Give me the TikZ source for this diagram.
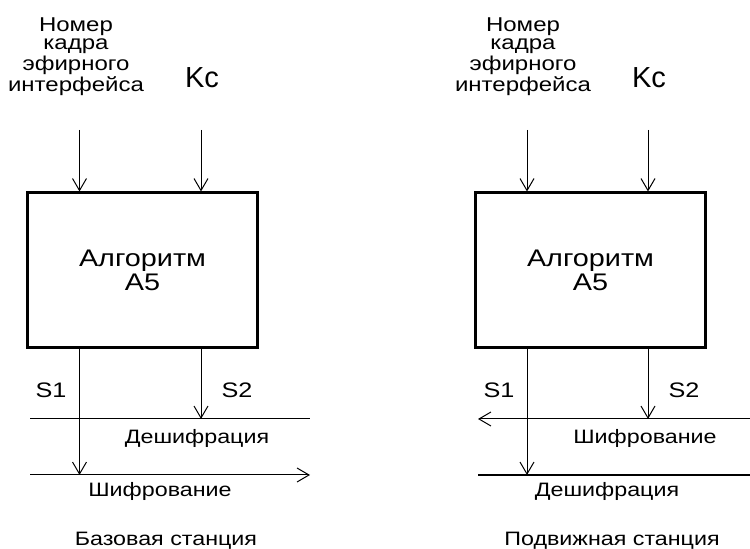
\documentclass[tikz,border=0pt]{standalone}
\usepackage{fontspec}
\setmainfont{Liberation Sans}[FakeStretch=1.2]
\newfontfamily\kcfont{Liberation Sans}
\usetikzlibrary{positioning, arrows.meta}

\begin{document}
\begin{tikzpicture}[x=0.5pt, y=-0.5pt,
    algbox/.style={draw, line width=1.5pt, minimum width=115pt, minimum height=77.5pt,
        align=center, font=\fontsize{12}{10}\selectfont},
    sig/.style={-{Straight Barb[length=6pt, width=7pt]}, line width=0.5pt},
    infotxt/.style={anchor=north, inner sep=0pt, align=center, font=\fontsize{10}{9.2}\selectfont},
    keytxt/.style={anchor=base, inner sep=0pt, font=\kcfont\fontsize{14.5}{14.5}\selectfont},
    stxt/.style={anchor=base, inner sep=0pt, font=\fontsize{10.5}{10.5}\selectfont},
    modetxt/.style={anchor=base, inner sep=0pt, font=\fontsize{9.7}{9.7}\selectfont}
]
    \useasboundingbox (0,0) rectangle (750,549);

    % Base station
    \node[algbox] (bsBox) at (142.5,270.5) {Алгоритм\\A5};
    \node[infotxt] (bsFnTxt) at (76,17) {Номер\\кадра\\эфирного\\интерфейса};
    \node[keytxt] (bsKcTxt) at (202,88) {Kc};
    \coordinate (bsFnIn) at (79.5,130);
    \coordinate (bsKcIn) at (201,130);
    \draw[sig] (bsFnIn) -- (bsFnIn |- bsBox.north);
    \draw[sig] (bsKcIn) -- (bsKcIn |- bsBox.north);

    \coordinate (bsDecL) at (30,419);
    \coordinate (bsDecR) at (310,419);
    \coordinate (bsEncL) at (30,475);
    \coordinate (bsEncR) at (310,475);
    \draw[line width=0.5pt] (bsDecL) -- (bsDecR);
    \draw[sig] (bsEncL) -- (bsEncR);
    \draw[sig] (bsBox.south -| bsFnIn) -- (bsFnIn |- bsEncL);
    \draw[sig] (bsBox.south -| bsKcIn) -- (bsKcIn |- bsDecL);

    \node[stxt] (bsS1) at (51,398) {S1};
    \node[stxt] (bsS2) at (237,398) {S2};
    \node[modetxt] (bsDecTxt) at (197,444) {Дешифрация};
    \node[modetxt] (bsEncTxt) at (160,497) {Шифрование};
    \node[modetxt] (bsName) at (166,546) {Базовая станция};

    % Mobile station
    \node[algbox] (msBox) at (590.5,270.5) {Алгоритм\\A5};
    \node[infotxt] (msFnTxt) at (523,17) {Номер\\кадра\\эфирного\\интерфейса};
    \node[keytxt] (msKcTxt) at (649,88) {Kc};
    \coordinate (msFnIn) at (527,130);
    \coordinate (msKcIn) at (648,130);
    \draw[sig] (msFnIn) -- (msFnIn |- msBox.north);
    \draw[sig] (msKcIn) -- (msKcIn |- msBox.north);

    \coordinate (msEncL) at (478,419);
    \coordinate (msEncR) at (750,419);
    \coordinate (msDecL) at (478,475);
    \coordinate (msDecR) at (750,475);
    \draw[sig] (msEncR) -- (msEncL);
    \draw[line width=0.7pt] (msDecL) -- (msDecR);
    \draw[sig] (msBox.south -| msFnIn) -- (msFnIn |- msDecL);
    \draw[sig] (msBox.south -| msKcIn) -- (msKcIn |- msEncL);

    \node[stxt] (msS1) at (499,398) {S1};
    \node[stxt] (msS2) at (684,398) {S2};
    \node[modetxt] (msEncTxt) at (645,444) {Шифрование};
    \node[modetxt] (msDecTxt) at (607,497) {Дешифрация};
    \node[modetxt] (msName) at (612,546) {Подвижная станция};
\end{tikzpicture}
\end{document}
